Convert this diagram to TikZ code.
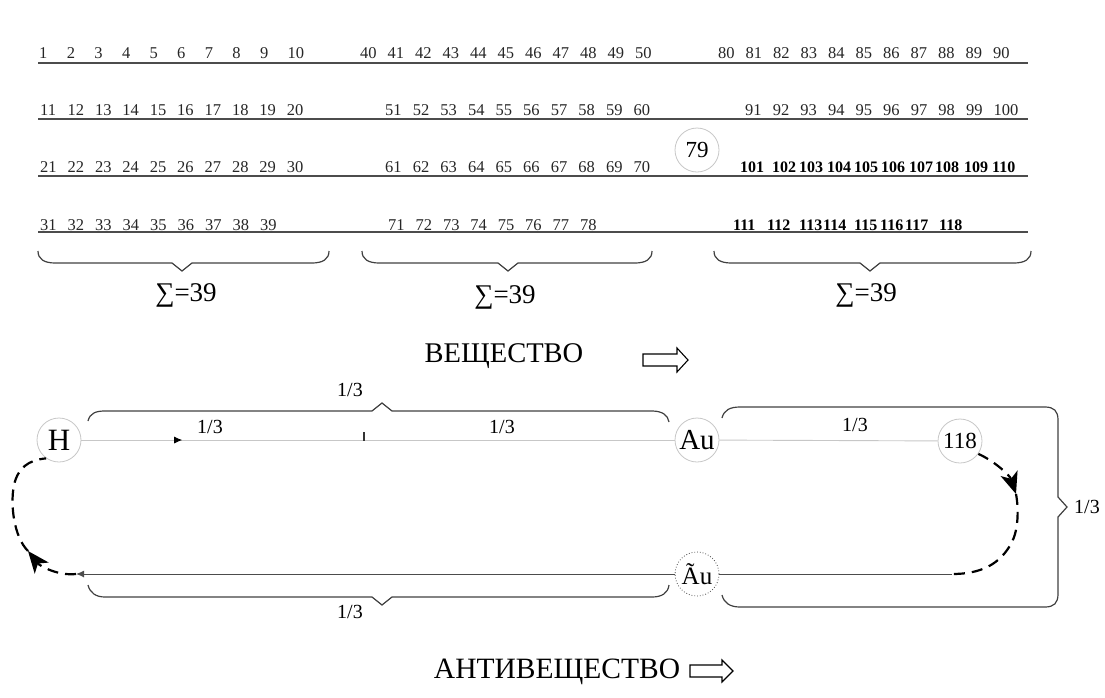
\documentclass[tikz,border=0pt]{standalone}
\usepackage{fontspec}
\setmainfont{Liberation Serif}
\usetikzlibrary{arrows.meta,decorations.markings}
\begin{document}
\begin{tikzpicture}[x=1pt,y=-1pt,
  num/.style={anchor=base west,inner sep=0pt,font=\fontsize{16.5}{17}\selectfont,text=black!85},
  bnum/.style={anchor=base west,inner sep=0pt,font=\fontsize{16}{17}\selectfont\bfseries,text=black},
  rowline/.style={line width=1.4pt,draw=black!70},
  brace/.style={line width=1.2pt,draw=black!75},
  ring/.style={circle,draw=black!22,line width=0.8pt,minimum size=44pt,inner sep=0pt,fill=white},
  thinline/.style={draw=black!22,line width=0.9pt},
  dashedarc/.style={line width=2.2pt,dash pattern=on 11pt off 7pt},
  lbl/.style={font=\fontsize{20}{20}\selectfont,inner sep=0pt},
  sig/.style={font=\fontsize{27}{27}\selectfont,inner sep=0pt},
  bigtxt/.style={font=\fontsize{28.5}{29}\selectfont,inner sep=0pt},
  hollow/.style={line width=1.1pt,draw=black,fill=white},
  bigtip/.style={-{Stealth[length=22pt,width=18pt,inset=6pt,line width=0pt]}},
]
\useasboundingbox (0,0) rectangle (1105,697);

% row lines
\foreach \y in {63,119,176,232} \draw[rowline] (38,\y) -- (1028,\y);

% numbers, left block
\foreach \i [count=\k from 0] in {1,...,10} \node[num] (n\i) at ({39+27.6*\k},58) {\i};
\foreach \i [count=\k from 0] in {11,...,20} \node[num] (n\i) at ({40+27.4*\k},115) {\i};
\foreach \i [count=\k from 0] in {21,...,30} \node[num] (n\i) at ({40+27.4*\k},172) {\i};
\foreach \i [count=\k from 0] in {31,...,39} \node[num] (n\i) at ({40+27.5*\k},230) {\i};
% middle block
\foreach \i [count=\k from 0] in {40,...,50} \node[num] (n\i) at ({360+27.5*\k},58) {\i};
\foreach \i [count=\k from 0] in {51,...,60} \node[num] (n\i) at ({385+27.6*\k},115) {\i};
\foreach \i [count=\k from 0] in {61,...,70} \node[num] (n\i) at ({385+27.6*\k},172) {\i};
\foreach \i [count=\k from 0] in {71,...,78} \node[num] (n\i) at ({388+27.4*\k},230) {\i};
% right block
\foreach \i [count=\k from 0] in {80,...,90} \node[num] (n\i) at ({718+27.5*\k},58) {\i};
\foreach \i [count=\k from 0] in {91,...,100} \node[num] (n\i) at ({745+27.6*\k},115) {\i};
\foreach \i/\x in {101/740,102/772,103/799,104/827,105/854,106/881,107/909,108/935,109/964,110/992}
  \node[bnum] (n\i) at (\x,172) {\i};
\foreach \i/\x in {111/733,112/767,113/799,114/823,115/854,116/880,117/905,118/939}
  \node[bnum] (n\i) at (\x,230) {\i};

\node[ring,font=\fontsize{23}{23}\selectfont] (c79) at (697,150) {79};

% braces under the rows
\draw[brace] (38,251) .. controls (38,259) and (44,263) .. (55,263) -- (172,263) -- (182,271) -- (192,263) -- (312,263) .. controls (323,263) and (329,259) .. (329,251);
\draw[brace] (362,251) .. controls (362,259) and (368,263) .. (379,263) -- (498,263) -- (508,271) -- (518,263) -- (635,263) .. controls (646,263) and (652,259) .. (652,251);
\draw[brace] (714,251) .. controls (714,259) and (720,263) .. (731,263) -- (860,263) -- (870,271) -- (880,263) -- (1014,263) .. controls (1025,263) and (1031,259) .. (1031,251);
\node[sig] (s1) at (186,295) {∑=39};
\node[sig] (s2) at (505,297) {∑=39};
\node[sig] (s3) at (866,295) {∑=39};

% VESHCHESTVO
\node[bigtxt] (v) at (504,356) {ВЕЩЕСТВО};
\draw[hollow] (643,354) -- (677,354) -- (677,348) -- (688,360) -- (677,372) -- (677,366) -- (643,366) -- cycle;

% bottom diagram nodes
\node[ring,font=\fontsize{31}{31}\selectfont] (H) at (59,440) {H};
\node[ring,font=\fontsize{29}{29}\selectfont] (Au) at (697,440) {Au};
\node[ring,font=\fontsize{23}{23}\selectfont] (c118) at (960,441) {118};
\node[ring,draw=black!70,dotted,font=\fontsize{25}{25}\selectfont] (aAu) at (697,574) {Ãu};

% top line
\draw[thinline,postaction={decorate},decoration={markings,mark=at position 0.17 with {\arrow[black]{Latex[length=8pt,width=7pt]}}}] (H) -- (Au);
\draw[thinline] (Au) -- (c118);
\draw[line width=1.6pt,black!80] (364,432) -- (364,441);

% right dashed arc
\coordinate (r0) at (1016,494);
\coordinate (r1) at (952,574);
\coordinate (l1) at (76,574);
\coordinate (l0) at (28,551);
\draw[dashedarc,bigtip] (c118.-35) .. controls (996,462) and (1010,476) .. (r0);
\draw[dashedarc] (r0) .. controls (1019,510) and (1018,530) .. (1012,542) .. controls (1000,565) and (980,574) .. (r1);
\draw[line width=1pt,black!70] (r1) -- (aAu);
\draw[line width=1pt,black!70,-{Latex[length=8pt,width=7pt]}] (aAu) -- (l1);
% left dashed arc
\draw[dashedarc,bigtip] (l1) .. controls (58,576) and (40,566) .. (l0);
\draw[dashedarc] (l0) .. controls (14,537) and (10,505) .. (14,485) .. controls (18,468) and (28,460) .. (H.235);

% braces of the bottom diagram
\draw[brace] (88,421) .. controls (90,413) and (96,411) .. (105,411) -- (372,411) -- (382,403) -- (392,411) -- (652,411) .. controls (662,411) and (668,415) .. (669,422);
\draw[brace] (88,585) .. controls (90,593) and (96,597) .. (105,597) -- (372,597) -- (382,605) -- (392,597) -- (652,597) .. controls (662,597) and (668,593) .. (669,585);
\draw[brace] (722,418) .. controls (724,410) and (730,407) .. (740,407) -- (1045,407) .. controls (1054,407) and (1058,411) .. (1058,420) -- (1058,497) -- (1067,507) -- (1058,517) -- (1058,594) .. controls (1058,603) and (1054,607) .. (1045,607) -- (740,607) .. controls (730,607) and (724,603) .. (722,595);

\node[lbl] (t1) at (350,390) {1/3};
\node[lbl] (t2) at (210,427) {1/3};
\node[lbl] (t3) at (502,427) {1/3};
\node[lbl] (t4) at (855,425) {1/3};
\node[lbl] (t5) at (1087,507) {1/3};
\node[lbl] (t6) at (350,612) {1/3};

% ANTIVESHCHESTVO
\node[bigtxt,font=\fontsize{29.5}{30}\selectfont] (av) at (557,672) {АНТИВЕЩЕСТВО};
\draw[hollow] (690,665) -- (722,665) -- (722,660) -- (733,671) -- (722,682) -- (722,677) -- (690,677) -- cycle;
\end{tikzpicture}
\end{document}
